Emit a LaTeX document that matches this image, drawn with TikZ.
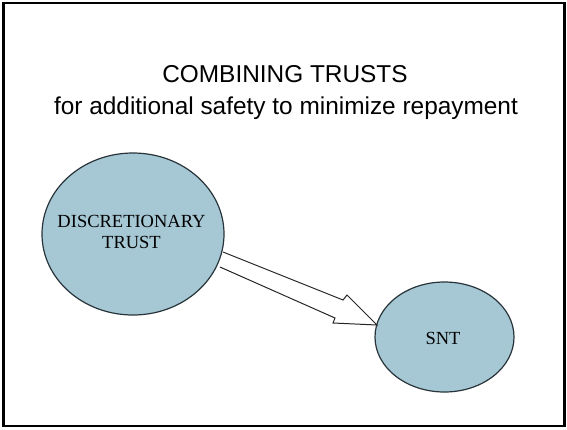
\documentclass[tikz,border=0pt]{standalone}
\usepackage{fontspec}
\setmainfont{Liberation Serif}
\newfontfamily\arialfont{Liberation Sans}
\definecolor{ellfill}{RGB}{166,200,213}
\definecolor{elldraw}{RGB}{40,52,58}
\begin{document}
\begin{tikzpicture}[x=1pt,y=-1pt,
  ellbox/.style={draw=elldraw, line width=1.2pt, fill=ellfill},
  ttl/.style={font=\arialfont\fontsize{24.4}{28}\selectfont, anchor=base},
  lbl/.style={font=\fontsize{18.5}{22}\selectfont, anchor=base, align=center},
  frame/.style={draw=black, line width=2.2pt}]
\useasboundingbox (0,0) rectangle (567,429);
\draw[frame] (3.5,3) rectangle (564.5,426);
\node[ttl] (t1) at (285,82) {COMBINING TRUSTS};
\node[ttl] (t2) at (286,114) {for additional safety to minimize repayment};
\draw[ellbox] (133,234) ellipse [x radius=91, y radius=81];
\node[inner sep=0pt] (dt) at (133,234) {};
\node[lbl] (dtl1) at (131.5,227) {DISCRETIONARY};
\node[lbl] (dtl2) at (131.5,248) {TRUST};
\draw[ellbox] (444.5,337) ellipse [x radius=69.5, y radius=55];
\node[inner sep=0pt] (snt) at (444.5,337) {};
\node[lbl] (sntl) at (443,344) {SNT};
\coordinate (a1) at (223,252);
\coordinate (a2) at (343,300);
\coordinate (a3) at (347,295);
\coordinate (tip) at (377,325);
\coordinate (a5) at (333,323);
\coordinate (a6) at (335,318);
\coordinate (a7) at (220,267);
\draw[draw=black!85, line width=1pt, fill=white, line join=miter] (a1) -- (a2) -- (a3) -- (tip) -- (a5) -- (a6) -- (a7);
\end{tikzpicture}
\end{document}
